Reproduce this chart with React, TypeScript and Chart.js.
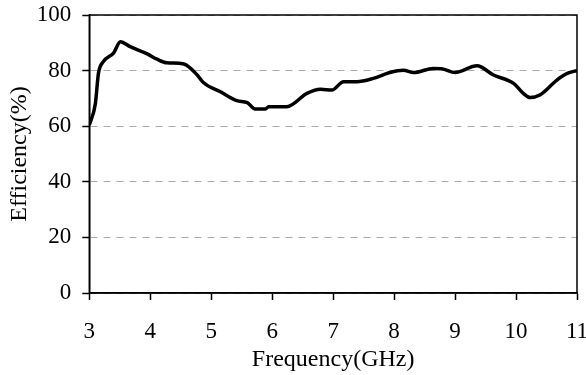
import React, { useEffect, useRef } from "react";
import { Chart, registerables } from "chart.js";

Chart.register(...registerables);

const frequencyGHz = [
  3.0, 3.1, 3.15, 3.23, 3.4, 3.51, 3.67, 3.95, 4.11, 4.27, 4.55, 4.77, 4.87, 5.15, 5.42, 5.59,
  5.72, 5.89, 5.94, 6.24, 6.57, 6.79, 6.98, 7.17, 7.39, 7.66, 7.93, 8.15, 8.32, 8.64, 8.78,
  9.0, 9.36, 9.63, 9.96, 10.12, 10.23, 10.39, 10.67, 10.84, 11.0,
];
const efficiencyPct = [
  60.4, 68.2, 79, 83.2, 86.4, 90.4, 88.6, 86, 84.1, 82.8, 82.4, 78.4, 75.7, 72.4, 69.2, 68.5,
  66.2, 66.2, 67.0, 67.0, 71.8, 73.3, 73.0, 76, 76, 77.2, 79.3, 80.1, 79.3, 80.8, 80.7,
  79.3, 81.7, 78.4, 75.4, 71.8, 70.3, 71.2, 76.6, 79, 80,
];
const xTicks = [3, 4, 5, 6, 7, 8, 9, 10, 11];
const yTicks = [0, 20, 40, 60, 80, 100];

const FONT = "'Liberation Serif', 'Times New Roman', serif";

const boxPlugin = {
  id: "box",
  afterDraw(chart: any) {
    const { ctx, chartArea } = chart;
    ctx.save();
    ctx.strokeStyle = "#000";
    ctx.lineWidth = 1.5;
    ctx.setLineDash([]);
    ctx.strokeRect(chartArea.left, chartArea.top, chartArea.right - chartArea.left, chartArea.bottom - chartArea.top);
    ctx.restore();
  },
};

export default function App() {
  const ref = useRef<HTMLCanvasElement>(null);
  useEffect(() => {
    document.body.style.margin = "0";
    const chart = new Chart(ref.current as HTMLCanvasElement, {
      type: "line",
      data: {
        datasets: [
          {
            data: frequencyGHz.map((x, i) => ({ x, y: efficiencyPct[i] })),
            borderColor: "#000",
            borderWidth: 3.5,
            pointRadius: 0,
            cubicInterpolationMode: "monotone",
            fill: false,
          },
        ],
      },
      options: {
        animation: false,
        responsive: false,
        layout: { padding: { left: 0, right: 0, top: 0, bottom: 1 } },
        plugins: { legend: { display: false }, tooltip: { enabled: false } },
        scales: {
          x: {
            type: "linear",
            min: 3,
            max: 11,
            afterBuildTicks: (axis: any) => {
              axis.ticks = xTicks.map((v) => ({ value: v }));
            },
            afterFit: (axis: any) => {
              axis.paddingRight = 9;
              axis.height = 81;
            },
            ticks: { color: "#000", font: { family: FONT, size: 23 }, padding: 18, maxRotation: 0 },
            grid: { drawOnChartArea: false, tickLength: 7, tickColor: "#000", tickWidth: 1.5 },
            border: { color: "#000", width: 1.5 },
            title: { display: true, text: "Frequency(GHz)", color: "#000", font: { family: FONT, size: 24 }, padding: { top: 0, bottom: 0 } },
          },
          y: {
            min: 0,
            max: 100,
            afterBuildTicks: (axis: any) => {
              axis.ticks = yTicks.map((v) => ({ value: v }));
            },
            afterFit: (axis: any) => {
              axis.paddingTop = 15;
            },
            ticks: { color: "#000", font: { family: FONT, size: 23 }, padding: 11 },
            grid: {
              color: "#aaa",
              lineWidth: 1,
              tickLength: 7,
              tickColor: "#000",
              tickWidth: 1.5,
              tickBorderDash: [],
            } as any,
            border: { color: "#000", width: 1.5, dash: [7, 6] },
            title: { display: true, text: "Efficiency(%)", color: "#000", font: { family: FONT, size: 24 }, padding: { top: 5, bottom: -8 } },
          },
        },
      },
      plugins: [boxPlugin],
    } as any);
    return () => chart.destroy();
  }, []);
  return <canvas ref={ref} width={586} height={375} style={{ display: "block" }} />;
}
